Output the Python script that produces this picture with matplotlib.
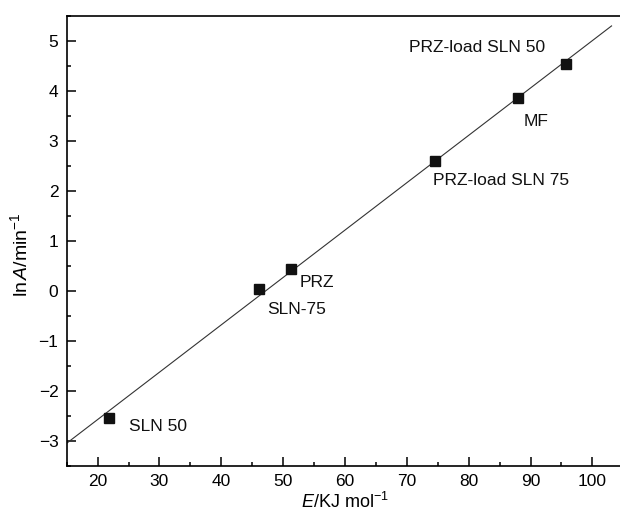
import matplotlib
matplotlib.use("Agg")
import matplotlib.pyplot as plt
from matplotlib.ticker import MultipleLocator

plt.rcParams['font.family'] = ['Liberation Sans', 'DejaVu Sans']
plt.rcParams['mathtext.fontset'] = 'custom'
plt.rcParams['mathtext.rm'] = 'Liberation Sans'
plt.rcParams['mathtext.it'] = 'Liberation Sans:italic'

# activation energy (kJ/mol) and ln A for each sample
names = ["SLN 50", "SLN-75", "PRZ", "PRZ-load SLN 75", "MF", "PRZ-load SLN 50"]
E = [21.9, 46.05, 51.2, 74.6, 88.0, 95.7]
lnA = [-2.55, 0.03, 0.43, 2.60, 3.86, 4.54]

# label anchor points (data coords) and alignment
label_x = [25.0, 47.4, 52.7, 74.2, 88.9, 92.3]
label_y = [-2.72, -0.37, 0.17, 2.20, 3.38, 4.88]
label_ha = ["left", "left", "left", "left", "left", "right"]

# compensation line
slope = 0.0948
intercept = -4.472
line_x = [15, 103.1]

fig = plt.figure(figsize=(6.2, 5.17), dpi=100)
ax = fig.add_axes([0.1076, 0.0992, 0.8977, 0.8698])

ax.plot(line_x, [intercept + slope * x for x in line_x], color="#333333", lw=0.8)
ax.plot(E, lnA, "s", color="#111111", markersize=7.2, zorder=3)

for n, x, y, ha in zip(names, label_x, label_y, label_ha):
    ax.text(x, y, n, fontsize=12.5, ha=ha, va="center", color="#111111")

ax.set_xlim(15, 105)
ax.set_ylim(-3.5, 5.5)
ax.xaxis.set_major_locator(MultipleLocator(10))
ax.xaxis.set_minor_locator(MultipleLocator(5))
ax.yaxis.set_major_locator(MultipleLocator(1))
ax.yaxis.set_minor_locator(MultipleLocator(0.5))
ax.tick_params(which="both", direction="in", labelsize=12.5, width=1.1, pad=6)
ax.tick_params(which="major", length=6.5)
ax.tick_params(which="minor", length=3)
for s in ax.spines.values():
    s.set_linewidth(1.2)

ax.set_xlabel(r"$E$/KJ mol$^{-1}$", fontsize=13, labelpad=2)
ax.set_ylabel(r"ln$\,A$/min$^{-1}$", fontsize=14)
ax.yaxis.set_label_coords(-0.064, 0.47)

fig.savefig("out.png", dpi=100)
